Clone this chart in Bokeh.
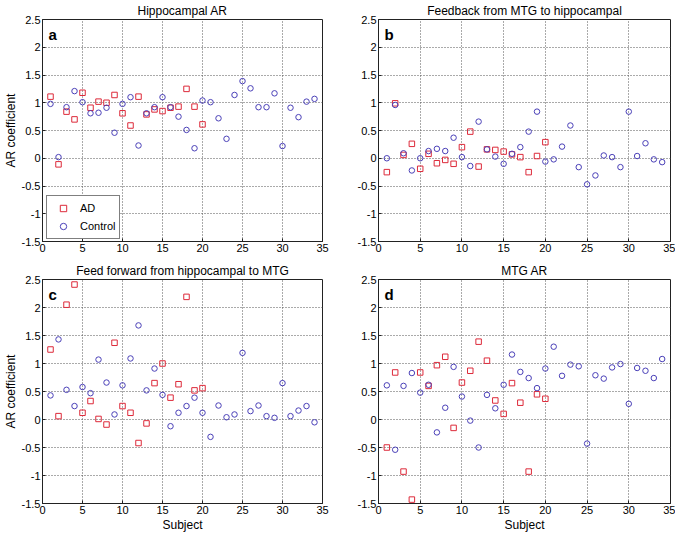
from bokeh.plotting import figure
from bokeh.layouts import column, row
from bokeh.models import FixedTicker, Range1d, Label, Legend, LegendItem
from bokeh.embed import file_html
from bokeh.resources import INLINE

# ---------------- data ----------------
ad_subjects = list(range(1, 21))
control_subjects = list(range(1, 35))

x_ticks = [0, 5, 10, 15, 20, 25, 30, 35]
x_tick_labels = ["0", "5", "10", "15", "20", "25", "30", "35"]
y_ticks = [-1.5, -1, -0.5, 0, 0.5, 1, 1.5, 2, 2.5]
y_tick_labels = ["-1.5", "-1", "-0.5", "0", "0.5", "1", "1.5", "2", "2.5"]

titles = ["Hippocampal AR", "Feedback from MTG to hippocampal",
          "Feed forward from hippocampal to MTG", "MTG AR"]
letters = ["a", "b", "c", "d"]
series_names = ["AD", "Control"]
x_label = "Subject"
y_label = "AR coefficient"

a_ad = [1.11, -0.11, 0.84, 0.70, 1.18, 0.91, 1.02, 1.00, 1.14, 0.81,
        0.59, 1.11, 0.79, 0.88, 0.85, 0.91, 0.93, 1.25, 0.93, 0.61]
a_ctrl = [0.98, 0.02, 0.92, 1.21, 1.01, 0.81, 0.82, 0.91, 0.46, 0.98,
          1.10, 0.23, 0.81, 0.92, 1.10, 0.92, 0.75, 0.51, 0.18, 1.04,
          1.01, 0.72, 0.35, 1.14, 1.39, 1.26, 0.92, 0.92, 1.17, 0.22,
          0.91, 0.74, 1.02, 1.07]

b_ad = [-0.25, 0.99, 0.06, 0.26, -0.19, 0.08, -0.09, -0.03, -0.10, 0.20,
        0.48, -0.15, 0.16, 0.15, 0.12, 0.07, 0.02, -0.25, 0.04, 0.29]
b_ctrl = [0.00, 0.96, 0.09, -0.22, 0.00, 0.13, 0.17, 0.13, 0.37, 0.02,
          -0.14, 0.66, 0.16, 0.03, -0.10, 0.08, 0.20, 0.48, 0.84, -0.06,
          -0.02, 0.21, 0.59, -0.16, -0.47, -0.31, 0.05, 0.02, -0.16, 0.84,
          0.04, 0.27, -0.02, -0.07]

c_ad = [1.25, 0.06, 2.05, 2.41, 0.12, 0.33, 0.01, -0.09, 1.37, 0.24,
        0.12, -0.42, -0.07, 0.65, 1.00, 0.39, 0.63, 2.19, 0.52, 0.56]
c_ctrl = [0.43, 1.43, 0.53, 0.24, 0.58, 0.47, 1.07, 0.66, 0.09, 0.61,
          1.09, 1.68, 0.52, 0.91, 0.44, -0.12, 0.12, 0.24, 0.39, 0.12,
          -0.31, 0.25, 0.04, 0.09, 1.19, 0.15, 0.25, 0.06, 0.03, 0.65,
          0.06, 0.16, 0.24, -0.05]

d_ad = [-0.50, 0.84, -0.93, -1.43, 0.84, 0.60, 0.97, 1.12, -0.15, 0.66,
        0.87, 1.39, 1.05, 0.34, 0.10, 0.65, 0.30, -0.93, 0.45, 0.37]
d_ctrl = [0.61, -0.54, 0.60, 0.83, 0.48, 0.62, -0.23, 0.21, 0.94, 0.41,
          -0.02, -0.50, 0.44, 0.20, 0.62, 1.16, 0.85, 0.74, 0.56, 0.91,
          1.30, 0.78, 0.98, 0.95, -0.43, 0.79, 0.73, 0.93, 0.99, 0.28,
          0.92, 0.87, 0.74, 1.08]

# ---------------- style ----------------
FONT = "Liberation Sans"
AD_COLOR = "#dd2a3a"
CTRL_COLOR = "#4a40b8"
FRAME_COLOR = "#222222"


def make_panel(title, letter, ad, ctrl, width, height, ml, mr, mt, mb,
               show_y, show_x, legend):
    p = figure(width=width, height=height,
               x_range=Range1d(0, 35), y_range=Range1d(-1.5, 2.5),
               output_backend="svg", toolbar_location=None,
               min_border_left=ml, min_border_right=mr,
               min_border_top=mt, min_border_bottom=mb,
               title=title)
    p.background_fill_color = "white"
    p.border_fill_color = "white"
    p.outline_line_color = FRAME_COLOR
    p.outline_line_width = 1

    p.title.text_font = FONT
    p.title.text_font_size = "12px"
    p.title.text_font_style = "normal"
    p.title.text_color = "black"
    p.title.align = "center"
    p.title.standoff = 3

    for ax, ticks, labels in ((p.xaxis[0], x_ticks, x_tick_labels),
                              (p.yaxis[0], y_ticks, y_tick_labels)):
        ax.ticker = FixedTicker(ticks=ticks)
        ax.major_label_overrides = {t: l for t, l in zip(ticks, labels)}
        ax.major_label_text_font = FONT
        ax.major_label_text_font_size = "11px"
        ax.major_label_text_color = "black"
        ax.major_label_standoff = 2
        ax.major_tick_in = 3
        ax.major_tick_out = 0
        ax.major_tick_line_color = FRAME_COLOR
        ax.minor_tick_line_color = None
        ax.axis_line_color = FRAME_COLOR
        ax.axis_label_text_font = FONT
        ax.axis_label_text_font_size = "12px"
        ax.axis_label_text_font_style = "normal"
        ax.axis_label_text_color = "black"
        ax.axis_label_standoff = 1

    if show_y:
        p.yaxis.axis_label = y_label
    if show_x:
        p.xaxis.axis_label = x_label

    p.xgrid.ticker = FixedTicker(ticks=x_ticks)
    p.ygrid.ticker = FixedTicker(ticks=y_ticks)
    for g in (p.xgrid, p.ygrid):
        g.grid_line_color = "#555555"
        g.grid_line_dash = "1 2"
        g.grid_line_width = 1

    r_ad = p.scatter(ad_subjects, ad, marker="square", size=5.5,
                     fill_color=None, line_color=AD_COLOR, line_width=1)
    r_ctrl = p.scatter(control_subjects, ctrl, marker="circle", size=5.5,
                       fill_color=None, line_color=CTRL_COLOR, line_width=1)

    p.add_layout(Label(x=0, y=2.5, x_offset=6, y_offset=-6, text=letter,
                       text_font=FONT, text_font_size="15px",
                       text_font_style="bold", text_color="black",
                       text_align="left", text_baseline="top"))

    if legend:
        leg = Legend(items=[LegendItem(label=series_names[0], renderers=[r_ad]),
                            LegendItem(label=series_names[1], renderers=[r_ctrl])],
                     location=(4, 2))
        leg.label_text_font = FONT
        leg.label_text_font_size = "11px"
        leg.label_text_color = "black"
        leg.border_line_color = "black"
        leg.border_line_width = 1
        leg.background_fill_color = "white"
        leg.background_fill_alpha = 1
        leg.padding = 4
        leg.spacing = 2
        leg.margin = 0
        leg.glyph_width = 24
        leg.glyph_height = 16
        leg.label_height = 16
        leg.label_standoff = 5
        p.add_layout(leg, "center")
    return p


W_LEFT, W_RIGHT = 334, 341
H_TOP, H_BOT = 257, 277

pa = make_panel(titles[0], letters[0], a_ad, a_ctrl, W_LEFT, H_TOP,
                36, 12, 16, 16, True, False, True)
pb = make_panel(titles[1], letters[1], b_ad, b_ctrl, W_RIGHT, H_TOP,
                44, 5, 16, 16, False, False, False)
pc = make_panel(titles[2], letters[2], c_ad, c_ctrl, W_LEFT, H_BOT,
                36, 12, 22, 30, True, True, False)
pd = make_panel(titles[3], letters[3], d_ad, d_ctrl, W_RIGHT, H_BOT,
                44, 5, 22, 30, False, True, False)

layout = column(row(pa, pb), row(pc, pd))

with open("out.html", "w") as f:
    f.write(file_html(layout, INLINE))
